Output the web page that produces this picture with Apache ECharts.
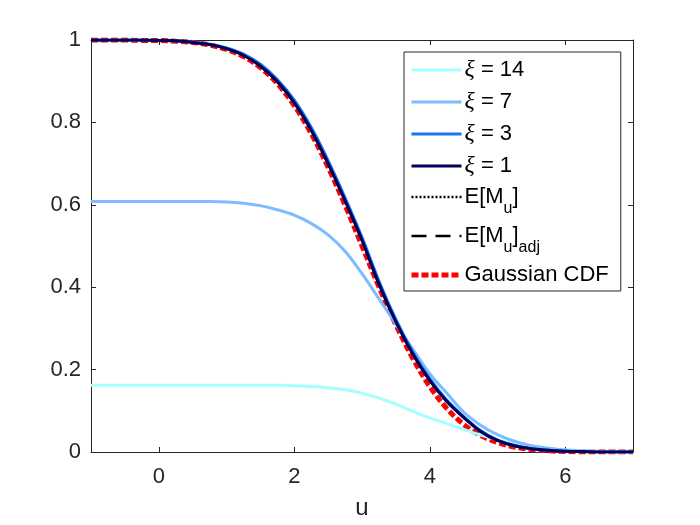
<!DOCTYPE html>
<html>
<head>
<meta charset="utf-8">
<title>E[M_u] vs Gaussian CDF</title>
<script src="https://cdn.jsdelivr.net/npm/echarts@6.0.0/dist/echarts.min.js"></script>
<style>
	html, body { margin: 0; padding: 0; background: #fff; }
	#chart { width: 700px; height: 525px; }
</style>
</head>
<body>
<div id="chart"></div>
<script>
// u grid (step 0.25)
var uVals = [-1, -0.75, -0.5, -0.25, 0, 0.25, 0.5, 0.75, 1, 1.25, 1.5, 1.75, 2, 2.25, 2.5, 2.75, 3,
	3.25, 3.5, 3.75, 4, 4.25, 4.5, 4.75, 5, 5.25, 5.5, 5.75, 6, 6.25, 6.5, 6.75, 7];

// curves
var xi14 = [0.162, 0.162, 0.162, 0.162, 0.162, 0.162, 0.162, 0.162, 0.162, 0.162, 0.162, 0.162, 0.161, 0.159, 0.156, 0.151, 0.143,
	0.131, 0.116, 0.099, 0.083, 0.069, 0.055, 0.041, 0.030, 0.021, 0.014, 0.009, 0.005, 0.003, 0.001, 0, 0];
var xi7 = [0.608, 0.608, 0.608, 0.608, 0.608, 0.608, 0.608, 0.608, 0.607, 0.604, 0.598, 0.588, 0.575, 0.555, 0.527, 0.487, 0.433,
	0.372, 0.310, 0.250, 0.190, 0.143, 0.097, 0.065, 0.042, 0.026, 0.015, 0.009, 0.005, 0.003, 0.001, 0, 0];
var xi3 = [1, 1, 1, 1, 0.999, 0.998, 0.995, 0.990, 0.981, 0.966, 0.941, 0.904, 0.854, 0.788, 0.707, 0.617, 0.521,
	0.415, 0.322, 0.243, 0.178, 0.126, 0.086, 0.052, 0.029, 0.016, 0.008, 0.004, 0.002, 0.001, 0, 0, 0];
var xi1 = [1, 1, 1, 1, 0.999, 0.998, 0.994, 0.989, 0.979, 0.963, 0.937, 0.899, 0.848, 0.781, 0.700, 0.610, 0.514,
	0.408, 0.316, 0.238, 0.174, 0.123, 0.084, 0.050, 0.028, 0.015, 0.008, 0.004, 0.002, 0.001, 0, 0, 0];
var eMu = [1, 1, 1, 1, 0.999, 0.998, 0.994, 0.989, 0.979, 0.963, 0.937, 0.899, 0.848, 0.781, 0.700, 0.610, 0.514,
	0.408, 0.316, 0.238, 0.174, 0.123, 0.084, 0.050, 0.028, 0.015, 0.008, 0.004, 0.002, 0.001, 0, 0, 0];
var eMuAdj = [1, 1, 1, 1, 0.999, 0.998, 0.994, 0.989, 0.979, 0.963, 0.937, 0.899, 0.848, 0.781, 0.700, 0.610, 0.514,
	0.408, 0.316, 0.238, 0.174, 0.123, 0.084, 0.050, 0.028, 0.015, 0.008, 0.004, 0.002, 0.001, 0, 0, 0];
var gaussCdf = [1, 1, 1, 0.999, 0.999, 0.997, 0.994, 0.988, 0.977, 0.960, 0.933, 0.894, 0.841, 0.773, 0.691, 0.599, 0.500,
	0.401, 0.309, 0.227, 0.159, 0.106, 0.067, 0.040, 0.023, 0.012, 0.006, 0.003, 0.001, 0, 0, 0, 0];

// tick labels
var xTicks = [0, 2, 4, 6];

var axisColor = '#262626';
var fontName = '"Liberation Sans", Arial, sans-serif';

function pairs(ys) {
	var out = [];
	for (var i = 0; i < uVals.length; i++) {
		out.push([uVals[i], ys[i]]);
	}
	return out;
}

// legend labels (rich text for xi and subscripts)
var legendText = {
	xi14: '{g|ξ} = 14',
	xi7: '{g|ξ} = 7',
	xi3: '{g|ξ} = 3',
	xi1: '{g|ξ} = 1',
	eMu: 'E[M{s|u}]',
	eMuAdj: 'E[M{s|u}]{s|adj}',
	gauss: 'Gaussian CDF'
};

// line styles per series
var styles = {
	gauss: { color: '#ff0000', width: 5, type: [7, 3] },
	eMu: { color: '#000000', width: 2.5, type: [2, 2] },
	eMuAdj: { color: '#000000', width: 2.5, type: [15, 9] },
	xi14: { color: '#a6ffff', width: 3, type: 'solid' },
	xi7: { color: '#7dbcff', width: 3, type: 'solid' },
	xi3: { color: '#1a75ee', width: 3, type: 'solid' },
	xi1: { color: '#00005e', width: 3, type: 'solid' }
};

function lineSeries(name, ys, z) {
	var st = styles[name];
	return {
		name: name,
		type: 'line',
		data: pairs(ys),
		smooth: 0.35,
		symbol: 'none',
		z: z,
		lineStyle: { color: st.color, width: st.width, type: st.type, cap: 'butt' },
		itemStyle: { color: st.color }
	};
}

function legendItem(name) {
	var st = styles[name];
	return {
		name: name,
		lineStyle: { color: st.color, width: st.width, type: st.type, cap: 'butt' }
	};
}

function boxAxisLine() {
	return { show: true, onZero: false, lineStyle: { color: axisColor, width: 1 } };
}

var chart = echarts.init(document.getElementById('chart'), null, { renderer: 'canvas' });

var option = {
	animation: false,
	backgroundColor: '#fff',
	grid: { left: 91, right: 67, top: 40, bottom: 71 },
	xAxis: [{
		type: 'value', min: -1, max: 7,
		name: 'u', nameLocation: 'middle', nameGap: 44,
		nameTextStyle: { fontSize: 24, color: axisColor, fontFamily: fontName },
		axisLine: boxAxisLine(),
		axisTick: { inside: true, length: 5, customValues: xTicks, lineStyle: { color: axisColor } },
		axisLabel: { customValues: xTicks, margin: 14, fontSize: 22, color: axisColor, fontFamily: fontName },
		splitLine: { show: false }
	}, {
		type: 'value', min: -1, max: 7, position: 'top',
		axisLine: boxAxisLine(),
		axisTick: { inside: true, length: 5, customValues: xTicks, lineStyle: { color: axisColor } },
		axisLabel: { show: false },
		splitLine: { show: false }
	}],
	yAxis: [{
		type: 'value', min: 0, max: 1, interval: 0.2,
		axisLine: boxAxisLine(),
		axisTick: { show: true, inside: true, length: 5, lineStyle: { color: axisColor } },
		axisLabel: { margin: 10, fontSize: 22, color: axisColor, fontFamily: fontName },
		splitLine: { show: false }
	}, {
		type: 'value', min: 0, max: 1, interval: 0.2, position: 'right',
		axisLine: boxAxisLine(),
		axisTick: { show: true, inside: true, length: 5, lineStyle: { color: axisColor } },
		axisLabel: { show: false },
		splitLine: { show: false }
	}],
	legend: {
		orient: 'vertical',
		left: 404,
		top: 52,
		padding: [6, 12, 5, 5],
		itemGap: 8,
		itemWidth: 50,
		itemHeight: 14,
		backgroundColor: '#fff',
		borderColor: axisColor,
		borderWidth: 1,
		borderRadius: 0,
		selectedMode: false,
		// only the line sample, no marker dot
		itemStyle: { opacity: 0 },
		data: ['xi14', 'xi7', 'xi3', 'xi1', 'eMu', 'eMuAdj', 'gauss'].map(legendItem),
		formatter: function (name) {
			return legendText[name];
		},
		textStyle: {
			fontSize: 22,
			color: '#000',
			fontFamily: fontName,
			padding: [0, 0, 0, -2],
			rich: {
				g: { fontSize: 24, fontStyle: 'italic', fontFamily: '"Liberation Serif", serif', color: '#000' },
				s: { fontSize: 16, padding: [24, 0, 0, 0], color: '#000', fontFamily: fontName }
			}
		}
	},
	series: [
		// drawn bottom to top
		lineSeries('gauss', gaussCdf, 1),
		lineSeries('eMu', eMu, 2),
		lineSeries('eMuAdj', eMuAdj, 3),
		lineSeries('xi14', xi14, 4),
		lineSeries('xi7', xi7, 5),
		lineSeries('xi3', xi3, 6),
		lineSeries('xi1', xi1, 7)
	]
};

chart.setOption(option);
</script>
</body>
</html>
